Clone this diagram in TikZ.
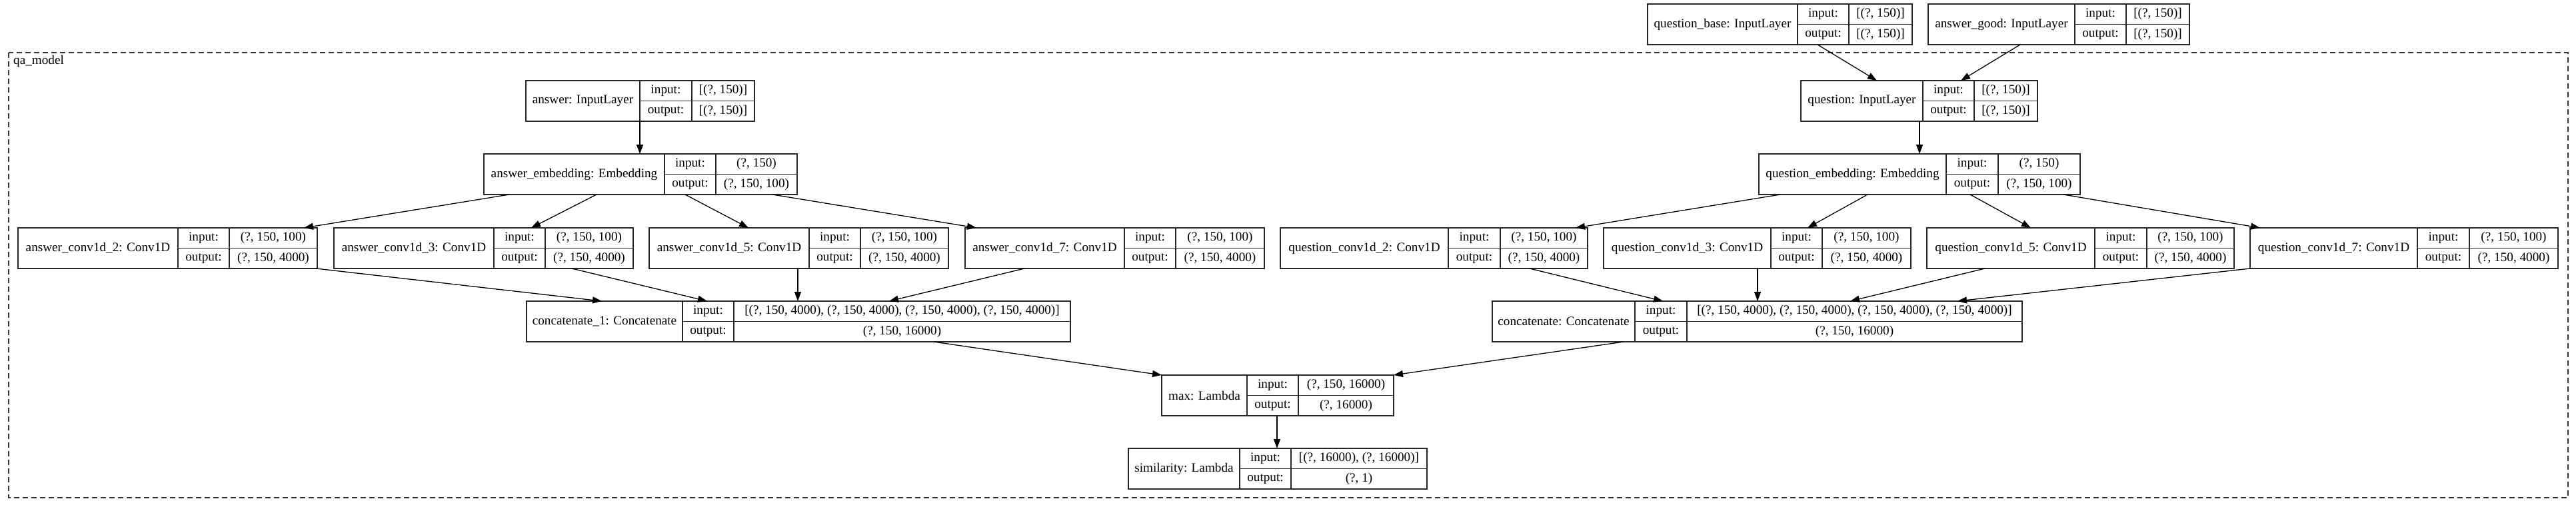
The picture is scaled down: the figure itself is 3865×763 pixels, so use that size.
\documentclass[tikz,border=0pt]{standalone}
\usepackage{fontspec}
\setmainfont{Liberation Serif}
\usepackage{tikz}
\usetikzlibrary{calc}
\usetikzlibrary{arrows, arrows.meta}

\tikzset{
	rec/.style={draw=black!85, line width=1.8pt, inner sep=0pt, outer sep=0pt,
		minimum height=61pt, anchor=north west},
	sep/.style={line width=1.4pt, black!85},
	txt/.style={inner sep=0pt, font=\fontsize{19.2}{23}\selectfont},
	edge/.style={line width=1.3pt, black, -{Triangle[length=14pt, width=10pt]}}
}

% name, left, divider 1, divider 2, right, top, label, input, output
\newcommand{\kerasbox}[9]{%
	\node[rec, minimum width={(#5-#2)*1pt}] (#1) at (#2,#6) {};
	\draw[sep] (#3,#6) -- (#3,{#6+61}) (#4,#6) -- (#4,{#6+61})
		(#3,{#6+30.5}) -- (#5,{#6+30.5});
	\node[txt] (#1-name) at ({(#2+#3)/2},{#6+30.5}) {#7};
	\node[txt] (#1-in) at ({(#3+#4)/2},{#6+15.25}) {input:};
	\node[txt] (#1-out) at ({(#3+#4)/2},{#6+45.75}) {output:};
	\node[txt] (#1-inval) at ({(#4+#5)/2},{#6+15.25}) {#8};
	\node[txt] (#1-outval) at ({(#4+#5)/2},{#6+45.75}) {#9};
}

\begin{document}
\begin{tikzpicture}[x=1pt, y=-1pt]

\useasboundingbox (0,0) rectangle (3865,763);

\draw [line width=1.4pt, black!80, dash pattern=on 8pt off 5pt]
	(13,79) rectangle (3853,747);
\node[txt, anchor=west] (qamodel) at (20,92) {qa\_model};

\kerasbox{qbase}{2472}{2697}{2774}{2869}{6}{question\_base: InputLayer}{[(?, 150)]}{[(?, 150)]}
\kerasbox{agood}{2893}{3113}{3190}{3285}{6}{answer\_good: InputLayer}{[(?, 150)]}{[(?, 150)]}

\kerasbox{ainput}{789}{960}{1038}{1132}{121}{answer: InputLayer}{[(?, 150)]}{[(?, 150)]}
\kerasbox{qinput}{2702}{2885}{2962}{3057}{121}{question: InputLayer}{[(?, 150)]}{[(?, 150)]}

\kerasbox{aemb}{726}{997}{1074}{1196}{231}{answer\_embedding: Embedding}{(?, 150)}{(?, 150, 100)}
\kerasbox{qemb}{2639}{2920}{2998}{3121}{231}{question\_embedding: Embedding}{(?, 150)}{(?, 150, 100)}

\kerasbox{aconv2}{27}{267}{344}{476}{342}{answer\_conv1d\_2: Conv1D}{(?, 150, 100)}{(?, 150, 4000)}
\kerasbox{aconv3}{501}{741}{818}{950}{342}{answer\_conv1d\_3: Conv1D}{(?, 150, 100)}{(?, 150, 4000)}
\kerasbox{aconv5}{974}{1214}{1291}{1423}{342}{answer\_conv1d\_5: Conv1D}{(?, 150, 100)}{(?, 150, 4000)}
\kerasbox{aconv7}{1448}{1687}{1764}{1897}{342}{answer\_conv1d\_7: Conv1D}{(?, 150, 100)}{(?, 150, 4000)}
\kerasbox{qconv2}{1921}{2173}{2251}{2382}{342}{question\_conv1d\_2: Conv1D}{(?, 150, 100)}{(?, 150, 4000)}
\kerasbox{qconv3}{2406}{2657}{2734}{2867}{342}{question\_conv1d\_3: Conv1D}{(?, 150, 100)}{(?, 150, 4000)}
\kerasbox{qconv5}{2891}{3143}{3221}{3352}{342}{question\_conv1d\_5: Conv1D}{(?, 150, 100)}{(?, 150, 4000)}
\kerasbox{qconv7}{3376}{3627}{3705}{3838}{342}{question\_conv1d\_7: Conv1D}{(?, 150, 100)}{(?, 150, 4000)}

\kerasbox{concat1}{790}{1024}{1101}{1606}{452}{concatenate\_1: Concatenate}{[(?, 150, 4000), (?, 150, 4000), (?, 150, 4000), (?, 150, 4000)]}{(?, 150, 16000)}
\kerasbox{concat}{2239}{2453}{2531}{3034}{452}{concatenate: Concatenate}{[(?, 150, 4000), (?, 150, 4000), (?, 150, 4000), (?, 150, 4000)]}{(?, 150, 16000)}

\kerasbox{max}{1743}{1871}{1948}{2091}{563}{max: Lambda}{(?, 150, 16000)}{(?, 16000)}
\kerasbox{sim}{1693}{1860}{1937}{2141}{673}{similarity: Lambda}{[(?, 16000), (?, 16000)]}{(?, 1)}

\draw [edge] ([xshift=255pt]qbase.south west) -- ([xshift=114pt]qinput.north west);
\draw [edge] ([xshift=138pt]agood.south west) -- ([xshift=240pt]qinput.north west);
\draw [edge] ([xshift=171pt]ainput.south west) -- ([xshift=234pt]aemb.north west);
\draw [edge] ([xshift=178pt]qinput.south west) -- ([xshift=241pt]qemb.north west);

\draw [edge] ([xshift=38pt]aemb.south west) -- ([xshift=429pt]aconv2.north west);
\draw [edge] ([xshift=169pt]aemb.south west) -- ([xshift=296pt]aconv3.north west);
\draw [edge] ([xshift=302pt]aemb.south west) -- ([xshift=149pt]aconv5.north west);
\draw [edge] ([xshift=433pt]aemb.south west) -- ([xshift=17pt]aconv7.north west);
\draw [edge] ([xshift=32pt]qemb.south west) -- ([xshift=443pt]qconv2.north west);
\draw [edge] ([xshift=163pt]qemb.south west) -- ([xshift=306pt]qconv3.north west);
\draw [edge] ([xshift=317pt]qemb.south west) -- ([xshift=156pt]qconv5.north west);
\draw [edge] ([xshift=457pt]qemb.south west) -- ([xshift=15pt]qconv7.north west);

\draw [edge] ([xshift=447pt]aconv2.south west) -- ([xshift=113pt]concat1.north west);
\draw [edge] ([xshift=357pt]aconv3.south west) -- ([xshift=271pt]concat1.north west);
\draw [edge] ([xshift=223pt]aconv5.south west) -- ([xshift=407pt]concat1.north west);
\draw [edge] ([xshift=89pt]aconv7.south west) -- ([xshift=544pt]concat1.north west);
\draw [edge] ([xshift=374pt]qconv2.south west) -- ([xshift=256pt]concat.north west);
\draw [edge] ([xshift=231pt]qconv3.south west) -- ([xshift=398pt]concat.north west);
\draw [edge] ([xshift=87pt]qconv5.south west) -- ([xshift=537pt]concat.north west);
\draw [edge] (qconv7.south west) -- ([xshift=698pt]concat.north west);

\draw [edge] ([xshift=611pt]concat1.south west) -- (max.north west);
\draw [edge] ([xshift=197pt]concat.south west) -- (max.north east);
\draw [edge] ([xshift=173pt]max.south west) -- ([xshift=223pt]sim.north west);

\end{tikzpicture}
\end{document}
